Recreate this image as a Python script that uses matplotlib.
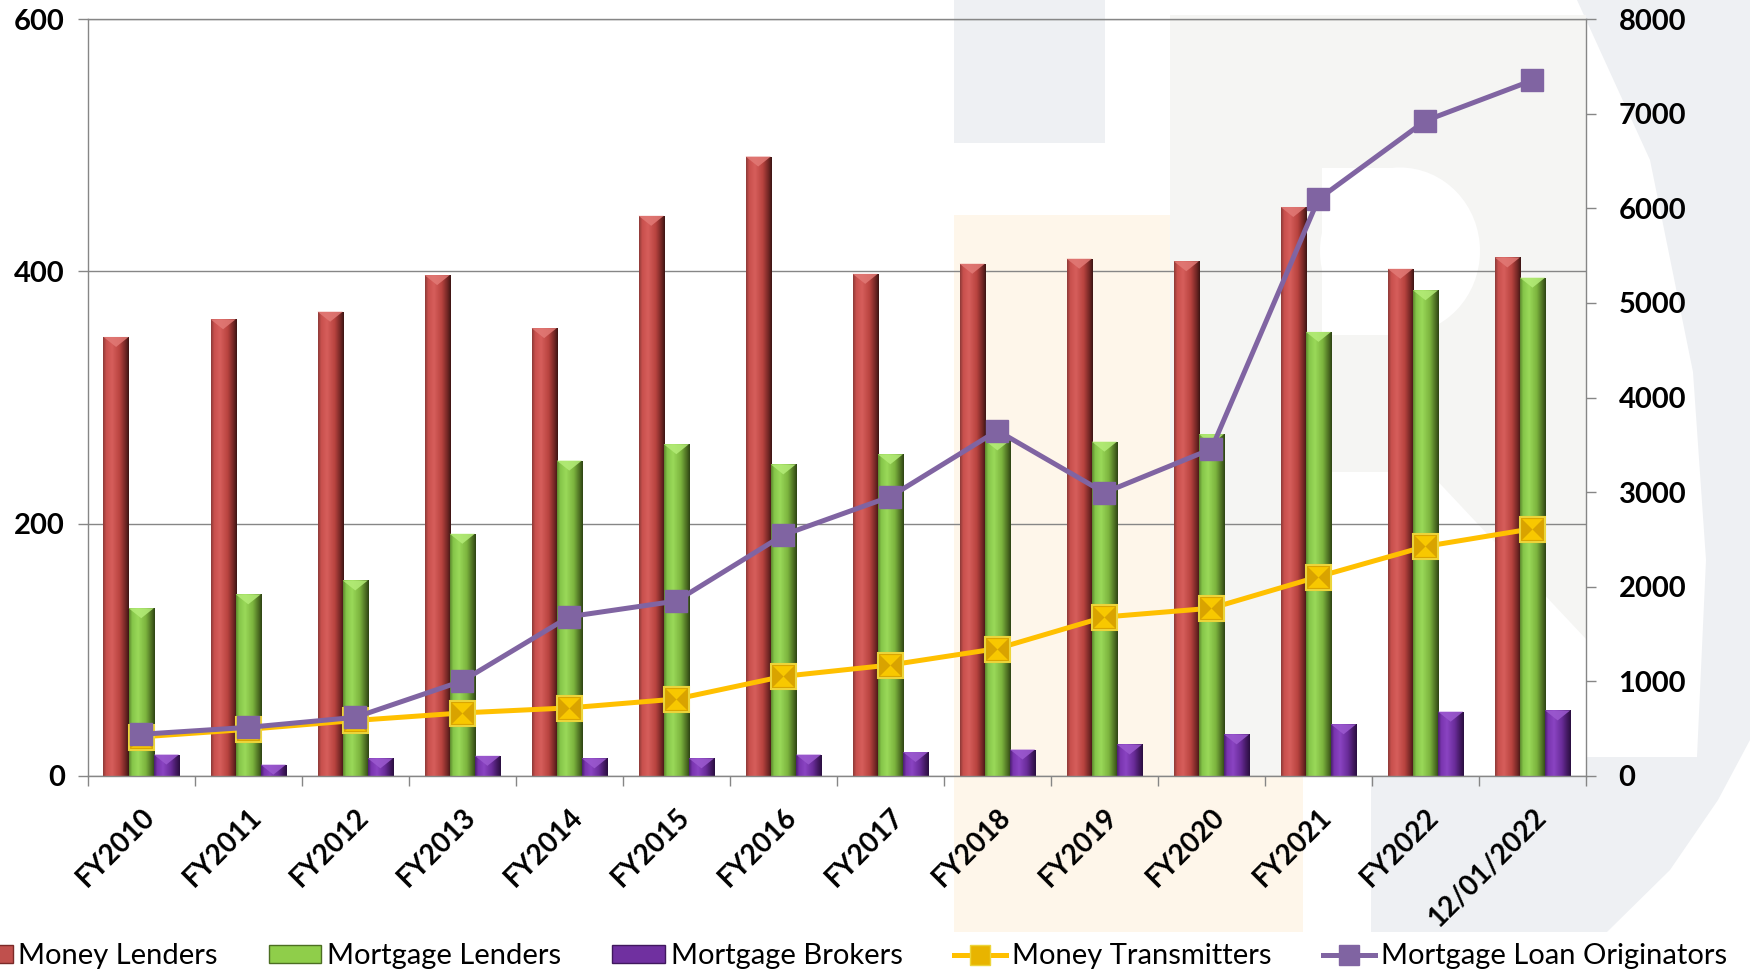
import numpy as np
import matplotlib
matplotlib.use("Agg")
import matplotlib.pyplot as plt
from matplotlib.colors import LinearSegmentedColormap
from matplotlib.patches import Patch, Polygon, Ellipse
from matplotlib.lines import Line2D

plt.rcParams['font.family'] = ['Lato', 'DejaVu Sans']

# data
categories = ['FY2010', 'FY2011', 'FY2012', 'FY2013', 'FY2014', 'FY2015', 'FY2016',
              'FY2017', 'FY2018', 'FY2019', 'FY2020', 'FY2021', 'FY2022', '12/01/2022']
money_lenders = [348, 362, 368, 397, 355, 444, 491, 398, 406, 410, 408, 451, 402, 411]
mortgage_lenders = [133, 144, 155, 192, 250, 263, 247, 255, 266, 265, 271, 352, 385, 395]
mortgage_brokers = [17, 9, 14, 16, 14, 14, 17, 19, 21, 25, 33, 41, 51, 52]
money_transmitters = [31, 37, 44, 50, 54, 61, 79, 88, 101, 126, 133, 158, 182, 196]
loan_originators = [441, 514, 620, 1004, 1684, 1849, 2547, 2952, 3649, 2994, 3456, 6097, 6925, 7352]

W, H = 1750, 973
fig = plt.figure(figsize=(W / 100, H / 100), dpi=100)


def fp(x, y):
    # pixel (top-left origin) -> figure fraction
    return (x / W, 1 - y / H)


def fig_poly(pts, color, z=-10):
    fig.add_artist(Polygon([fp(*p) for p in pts], closed=True, transform=fig.transFigure,
                           facecolor=color, edgecolor='none', zorder=z))


# faint watermark behind the plot
fig_poly([(954, 0), (1105, 0), (1105, 143), (954, 143)], '#eef0f3')
fig_poly([(954, 215), (1303, 215), (1303, 932), (954, 932)], '#fef6ea')
fig_poly([(1577, 0), (1750, 0), (1750, 740), (1718, 800), (1670, 870), (1607, 932),
          (1371, 932), (1371, 757), (1697, 757), (1706, 560), (1693, 372),
          (1650, 160)], '#eef0f3')
fig_poly([(1170, 15), (1586, 15), (1586, 776), (1170, 776)], '#f5f5f3')
fig_poly([(1322, 472), (1429, 472), (1586, 639), (1586, 776), (1322, 776)], 'white', -9)
fig_poly([(1322, 168), (1400, 168), (1400, 335), (1322, 335)], 'white', -9)
fig.add_artist(Ellipse(fp(1400, 251), 160 / W, 167 / H, transform=fig.transFigure,
                       facecolor='white', edgecolor='none', zorder=-9))

ax = fig.add_axes([87.7 / W, 1 - 776 / H, (1586 - 87.7) / W, (776 - 19) / H])
ax.patch.set_alpha(0)

x = np.arange(len(categories))
bw = 0.235

grads = {
    'red': ['#8e3a38', '#c9504d', '#d65e5b', '#b8433f', '#702624', '#3d1514'],
    'green': ['#5e8a2e', '#86c64a', '#9ad959', '#7cb43e', '#4c6e22', '#2e4414'],
    'purple': ['#4a2070', '#7a35b0', '#8a44c2', '#6a2c9a', '#40185e', '#2a0f40'],
}
tops = {'red': '#e27a76', 'green': '#b4ec78', 'purple': '#9c5ad0'}
base = {'red': '#c0504d', 'green': '#8fce4a', 'purple': '#7030a0'}

ymax = 600
bevel = 10 / 757 * ymax


def shaded_bars(xpos, vals, key, label):
    bars = ax.bar(xpos, vals, bw, color=base[key], edgecolor='none', zorder=2, label=label)
    cmap = LinearSegmentedColormap.from_list(key, list(zip([0, 0.12, 0.35, 0.65, 0.88, 1.0],
                                                           grads[key])))
    g = np.linspace(0, 1, 64).reshape(1, -1)
    for p in bars.patches:
        x0, y0 = p.get_x(), p.get_y()
        x1, y1 = x0 + p.get_width(), y0 + p.get_height()
        im = ax.imshow(g, extent=[x0, x1, y0, y1], aspect='auto', cmap=cmap,
                       zorder=2.1, interpolation='bilinear')
        im.set_clip_path(p)
        d = min(bevel, p.get_height())
        ax.add_patch(Polygon([(x0, y1), (x1, y1), ((x0 + x1) / 2, y1 - d)],
                             closed=True, facecolor=tops[key], edgecolor='none',
                             alpha=0.85, zorder=2.2))
    return bars


shaded_bars(x - bw, money_lenders, 'red', 'Money Lenders')
shaded_bars(x, mortgage_lenders, 'green', 'Mortgage Lenders')
shaded_bars(x + bw, mortgage_brokers, 'purple', 'Mortgage Brokers')

# gold line with bevelled square markers
hourglass = [(-1, 1), (1, 1), (0, 0), (1, -1), (-1, -1), (0, 0)]
ax.plot(x, money_transmitters, color='#ffc000', lw=3.6, marker='s', ms=18,
        mfc='#d9a300', mec='#ecd43a', mew=1.5, zorder=4)
ax.plot(x, money_transmitters, ls='none', marker=hourglass, ms=15,
        mfc='#f8c800', mec='none', zorder=4.1)

ax.set_xlim(-0.5, len(categories) - 0.5)
ax.set_ylim(0, ymax)
ax.set_yticks([0, 200, 400, 600])
ax.set_xticks(x)
ax.set_xticks(np.arange(-0.5, len(categories)), minor=True)
ax.set_xticklabels(categories, rotation=45, ha='right', rotation_mode='anchor',
                   fontsize=20, fontweight='bold')
ax.tick_params(axis='x', which='major', length=0, pad=20)
ax.tick_params(axis='x', which='minor', length=7.5, width=1, color='#868686')
ax.tick_params(axis='y', length=7.5, width=1, color='#868686', pad=9,
               labelsize=21)
for t in ax.get_yticklabels():
    t.set_fontweight('bold')
ax.yaxis.grid(True, color='#868686', lw=1.0, zorder=1)
ax.set_axisbelow(True)
for s in ['left', 'bottom', 'top']:
    ax.spines[s].set_color('#868686')
    ax.spines[s].set_linewidth(1.0)
ax.spines['right'].set_visible(False)

ax2 = ax.twinx()
ax2.plot(x, loan_originators, color='#8064a2', lw=3.6, marker='s', ms=16,
         mfc='#8064a2', mec='#8064a2', zorder=5)
ax2.set_ylim(0, 8000)
ax2.set_yticks(np.arange(0, 8001, 1000))
ax2.tick_params(axis='y', length=7.5, width=1, color='#868686', pad=16, labelsize=21)
for t in ax2.get_yticklabels():
    t.set_fontweight('bold')
for s in ['left', 'bottom', 'top']:
    ax2.spines[s].set_visible(False)
ax2.spines['right'].set_color('#868686')
ax2.spines['right'].set_linewidth(1.0)

handles = [
    Patch(facecolor='#c0504d', edgecolor='#7a2a28'),
    Patch(facecolor='#8fce4a', edgecolor='#4c6e22'),
    Patch(facecolor='#7030a0', edgecolor='#40185e'),
    Line2D([], [], color='#ffc000', lw=3.6, marker='s', ms=14, mfc='#e8b400', mec='#ecd43a'),
    Line2D([], [], color='#8064a2', lw=3.6, marker='s', ms=14, mfc='#8064a2'),
]
labels = ['Money Lenders', 'Mortgage Lenders', 'Mortgage Brokers',
          'Money Transmitters', 'Mortgage Loan Originators']
fig.legend(handles, labels, loc='center', bbox_to_anchor=(0.482, 0.017), ncol=5,
           frameon=False, fontsize=21, handlelength=1.8, handleheight=0.55,
           handletextpad=0.2, columnspacing=1.75, borderpad=0)

fig.savefig('out.png', dpi=100)
